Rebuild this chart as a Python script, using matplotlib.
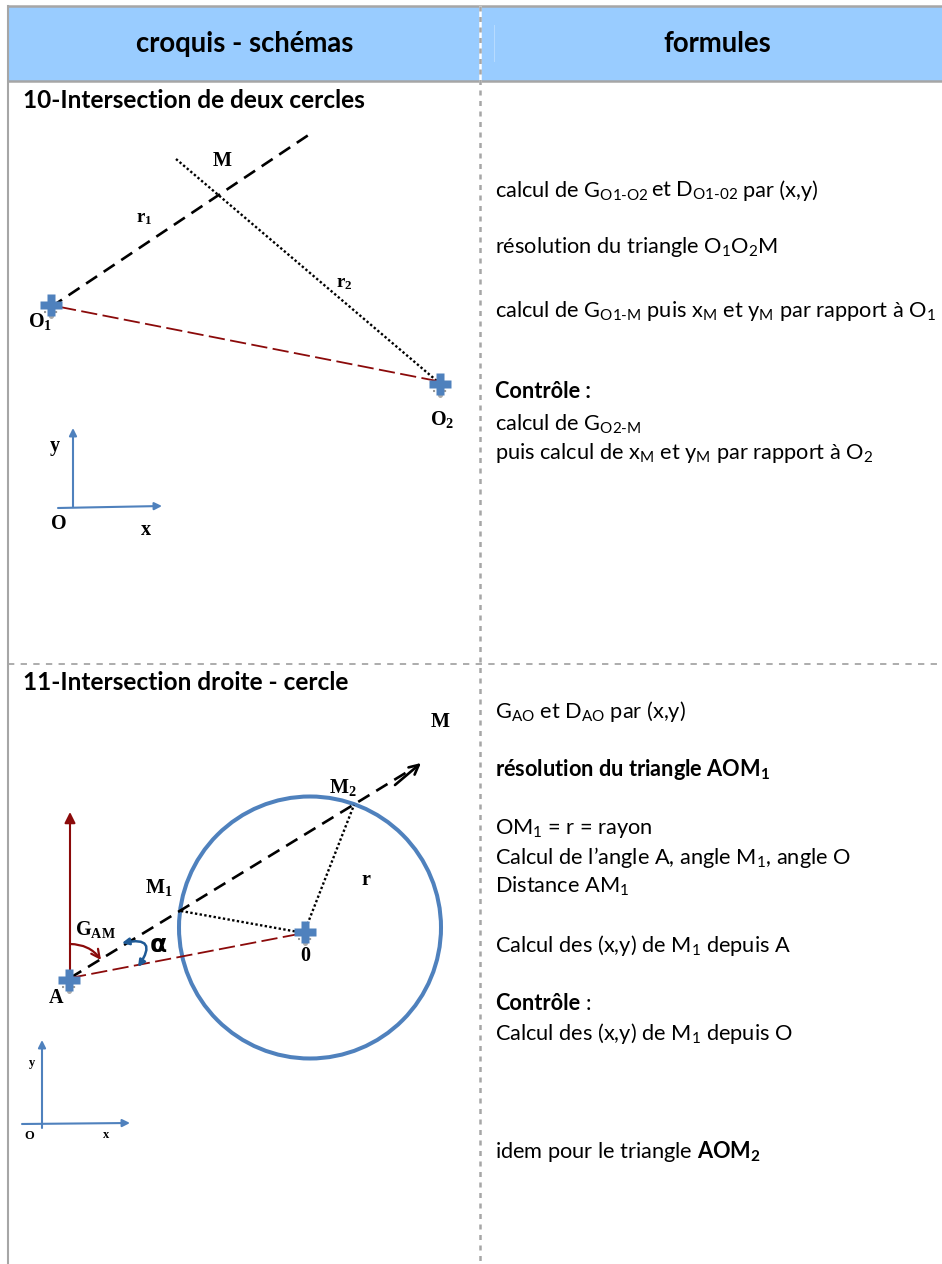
from matplotlib import pyplot as plt
from matplotlib.patches import Circle, FancyArrowPatch, Rectangle

plt.rcParams['font.family'] = ['Lato', 'DejaVu Sans']
plt.rcParams['mathtext.fontset'] = 'custom'
plt.rcParams['mathtext.rm'] = 'Lato'
plt.rcParams['mathtext.bf'] = 'Lato:bold'
plt.rcParams['mathtext.sf'] = 'Liberation Serif:bold'
plt.rcParams['mathtext.default'] = 'regular'

W, H = 942, 1264
GRAY = '#a6a6a6'
BLUE = '#4f81bd'
DARKBLUE = '#1f5a96'
RED = '#8b0a0a'

# table text
headers = [('croquis - schémas', 245), ('formules', 717)]
titles = [('10-Intersection de deux cercles', 101), ('11-Intersection droite - cercle', 682)]
right_rows = [
    (495, 190, r'calcul de G$_{O1\text{-}O2}$'),
    (651, 190, r'et D$_{O1\text{-}02}$'),
    (743, 190, 'par (x,y)'),
    (495, 246, r'résolution du triangle O$_{1}$O$_{2}$M'),
    (495, 310, r'calcul de G$_{O1\text{-}M}$ puis x$_{M}$ et y$_{M}$ par rapport à O$_{1}$'),
    (495, 423, r'calcul de G$_{O2\text{-}M}$'),
    (495, 452, r'puis calcul de x$_{M}$ et y$_{M}$ par rapport à O$_{2}$'),
    (495, 711, r'G$_{AO}$ et D$_{AO}$ par (x,y)'),
    (495, 827, r'OM$_{1}$ = r = rayon'),
    (495, 856, r'Calcul de l’angle A, angle M$_{1}$, angle O'),
    (495, 885, r'Distance AM$_{1}$'),
    (495, 945, r'Calcul des (x,y) de M$_{1}$ depuis A'),
    (495, 1032, r'Calcul des (x,y) de M$_{1}$ depuis O'),
    (495, 1151, r'idem pour le triangle $\mathbf{AOM_{2}}$'),
    (586, 1003, ':'),
]
right_bold = [
    (391, 'Contrôle :'),
    (768, r'résolution du triangle AOM$_{1}$'),
    (1003, 'Contrôle'),
]

# first sketch
s1_dash = ([51, 310], [307, 134])
s1_dot = ([176, 437], [159, 381])
s1_red = ([60, 437], [307, 381])
s1_plus = [(51, 305), (440, 384)]
s1_labels = [(222, 161, 'M', 14.5), (144, 219, r'r$_{\mathsf{1}}$', 13.5), (344, 284, r'r$_{\mathsf{2}}$', 13.5),
             (40, 322, r'O$_{\mathsf{1}}$', 14.5), (442, 420, r'O$_{\mathsf{2}}$', 14.5),
             (55, 446, 'y', 14.5), (59, 524, 'O', 14.5), (146, 530, 'x', 14.5)]

# second sketch
s2_dash = ([70, 412], [978, 769])
s2_head = ((395, 785), (421, 763))
s2_dots = [([181, 304], [911, 933]), ([304, 354], [933, 805])]
s2_red = ([70, 304], [978, 933])
s2_plus = [(69, 980), (305, 932)]
circle_xy, circle_r = (310, 927.5), 131
s2_labels = [(440, 722, 'M', 14.5), (343, 787, r'M$_{\mathsf{2}}$', 14.5), (159, 888, r'M$_{\mathsf{1}}$', 14.5),
             (95, 930, r'G$_{\mathsf{AM}}$', 14.5), (366, 880, 'r', 14.5), (305, 956, '0', 14.5),
             (56, 998, 'A', 14.5), (32, 1063, 'y', 9), (29, 1136, 'O', 9), (106, 1135, 'x', 9)]

fig = plt.figure(figsize=(W / 100, H / 100), dpi=100)
ax = fig.add_axes([0, 0, 1, 1])
ax.set_xlim(0, W)
ax.set_ylim(H, 0)
ax.axis('off')


def arrow(p0, p1, color, lw=1.5, rad=0, style='-|>', scale=11):
    ax.add_patch(FancyArrowPatch(p0, p1, arrowstyle=style, mutation_scale=scale, color=color, lw=lw,
                                 shrinkA=0, shrinkB=0, connectionstyle=f'arc3,rad={rad}', zorder=4))


def plus(x, y):
    ax.plot([x - 7, x + 7], [y + 7, y + 7], ls=':', color='#999999', lw=1.5, zorder=4)
    ax.plot([x], [y + 11], marker='o', ms=2.5, color='#aaaaaa', zorder=4)
    ax.plot([x], [y], marker='P', ms=16, color=BLUE, mec='none', zorder=5)


def serif(x, y, s, size):
    ax.text(x, y, s, fontsize=size, family='Liberation Serif', weight='bold', ha='center', va='center', zorder=6)


# table
ax.add_patch(Rectangle((8, 7), W - 8, 74, color='#99ccff', lw=0))
ax.plot([8, W], [6, 6], color=GRAY, lw=1.8)
ax.plot([8, W], [81, 81], color=GRAY, lw=1.8)
ax.plot([8, 8], [6, H], color=GRAY, lw=1.5)
ax.plot([480, 480], [7, 81], color='white', lw=1.8, zorder=2)
ax.plot([480, 480], [6, H], color=GRAY, lw=1.8, ls=(0, (2, 2.2)), zorder=3)
ax.plot([494, 494], [25, 61], color='#b8dcff', lw=0.7)
ax.plot([8, W], [664, 664], color=GRAY, lw=1.3, ls=(0, (3.5, 3.5)))

for s, x in headers:
    ax.text(x, 44, s, fontsize=19.8, weight='bold', ha='center', va='center')
for s, y in titles:
    ax.text(23, y, s, fontsize=17.6, weight='bold', ha='left', va='center')
for x, y, s in right_rows:
    ax.text(x, y + 1, s, fontsize=15.7, ha='left', va='center')
for y, s in right_bold:
    ax.text(495, y + 1, s, fontsize=15.7, weight='bold', ha='left', va='center')

# first sketch
ax.plot(*s1_dash, color='black', lw=1.9, ls=(0, (5, 3)))
ax.plot(*s1_dot, color='black', lw=1.7, ls=(0, (1, 1)))
ax.plot(*s1_red, color=RED, lw=1.3, ls=(0, (9, 3)))
for x, y in s1_plus:
    plus(x, y)
arrow((73, 507), (73, 428), BLUE)
arrow((58, 508), (162, 506), BLUE)
for x, y, s, size in s1_labels:
    serif(x, y, s, size)

# second sketch
ax.add_patch(Circle(circle_xy, circle_r, fill=False, ec=BLUE, lw=2.9))
ax.plot(*s2_dash, color='black', lw=1.9, ls=(0, (5, 3)))
arrow(*s2_head, 'black', lw=1.9, style='->', scale=17)
for xs, ys in s2_dots:
    ax.plot(xs, ys, color='black', lw=1.7, ls=(0, (1, 1)))
ax.plot(*s2_red, color=RED, lw=1.3, ls=(0, (9, 3)))
arrow((70, 972), (70, 812), RED, lw=1.5, scale=16)
arrow((70, 944), (101, 960), RED, lw=1.6, rad=-0.25, style='->', scale=15)
arrow((138, 967), (122, 943), DARKBLUE, lw=1.8, rad=1.2, style='<|-|>', scale=10)
for x, y in s2_plus:
    plus(x, y)
arrow((42, 1128), (42, 1040), BLUE)
arrow((22, 1124), (130, 1123), BLUE)
for x, y, s, size in s2_labels:
    serif(x, y, s, size)
ax.text(158, 945, 'α', fontsize=18, weight='bold', family='DejaVu Sans', ha='center', va='center')

fig.savefig('out.png', dpi=100)
